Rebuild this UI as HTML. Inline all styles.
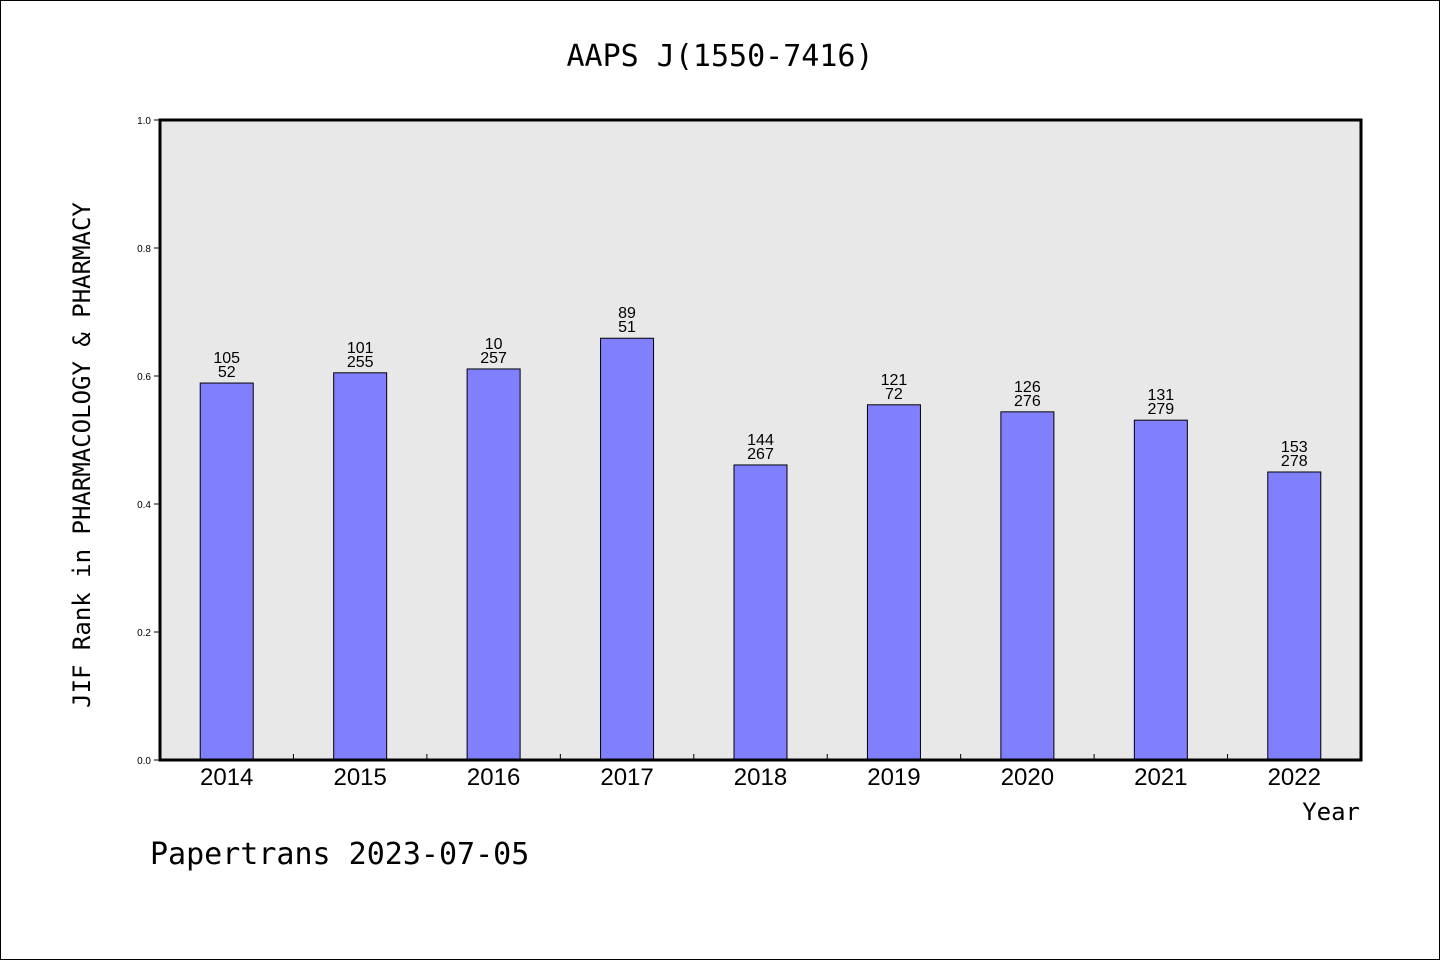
<!DOCTYPE html>
<html><head><meta charset="utf-8"><style>
html,body{margin:0;padding:0;background:#fff}
svg{display:block}
text{font-family:"Liberation Sans","DejaVu Sans",sans-serif;fill:#000}
</style></head><body>
<svg id="chart" width="1440" height="960" viewBox="0 0 1440 960" xmlns="http://www.w3.org/2000/svg">
<rect x="0.5" y="0.5" width="1439" height="959" fill="#fff" stroke="#000" stroke-width="1"/>
<text x="720" y="66" font-size="30" text-anchor="middle" style="font-family:'DejaVu Sans Mono','Liberation Mono',monospace">AAPS J(1550-7416)</text>
<rect x="160" y="120" width="1201" height="640" fill="#e8e8e8"/>
<g id="yticks"></g>
<g id="bars"></g>
<g id="xticks"></g>
<rect x="160" y="120" width="1201" height="640" fill="none" stroke="#000" stroke-width="3"/>
<text transform="translate(90,455) rotate(-90)" font-size="24" text-anchor="middle" style="font-family:'DejaVu Sans Mono','Liberation Mono',monospace">JIF Rank in PHARMACOLOGY &amp; PHARMACY</text>
<text x="1360" y="820" font-size="24" text-anchor="end" style="font-family:'DejaVu Sans Mono','Liberation Mono',monospace">Year</text>
<text x="150" y="864" font-size="30" style="font-family:'DejaVu Sans Mono','Liberation Mono',monospace">Papertrans 2023-07-05</text>
</svg>
<script>
const categories = ["2014","2015","2016","2017","2018","2019","2020","2021","2022"];
const values = [0.589,0.605,0.611,0.659,0.461,0.555,0.544,0.531,0.450];
const rankLabels = ["105","101","10","89","144","121","126","131","153"];
const totalLabels = ["52","255","257","51","267","72","276","279","278"];
const yTickLabels = ["0.0","0.2","0.4","0.6","0.8","1.0"];
const yTickValues = [0,0.2,0.4,0.6,0.8,1.0];

const NS="http://www.w3.org/2000/svg";
const x0=160,x1=1361,y0=760,y1=120;
const band=(x1-x0)/categories.length;
const xC=i=>x0+band*(i+0.5);
const yS=v=>y0-(y0-y1)*v;
function mk(tag,attrs,parent){const e=document.createElementNS(NS,tag);for(const k in attrs)e.setAttribute(k,attrs[k]);parent.appendChild(e);return e;}
const gy=document.getElementById('yticks'),gb=document.getElementById('bars'),gx=document.getElementById('xticks');
yTickValues.forEach((v,i)=>{
  const l=mk('line',{x1:154,x2:160,y1:yS(v),y2:yS(v),stroke:'#000','stroke-width':1},gy);
  
  
  const t=mk('text',{x:151,y:yS(v)+4,'font-size':10,'text-anchor':'end'},gy);
  
  
  t.textContent=yTickLabels[i];
});
const bw=53;
categories.forEach((c,i)=>{
  const cx=xC(i),top=yS(values[i]);
  const r=mk('rect',{x:cx-bw/2,y:top,width:bw,height:y0-top,fill:'#8080ff',stroke:'#000','stroke-width':1},gb);
  
  
  const t1=mk('text',{x:cx,y:top-20,'font-size':16,'text-anchor':'middle'},gb);
  
  
  t1.textContent=rankLabels[i];
  const t2=mk('text',{x:cx,y:top-6,'font-size':16,'text-anchor':'middle'},gb);
  
  
  t2.textContent=totalLabels[i];
  const xt=mk('text',{x:cx,y:785,'font-size':24,'text-anchor':'middle'},gx);
  
  
  xt.textContent=c;
  if(i>0){
    const tk=mk('line',{x1:x0+band*i,x2:x0+band*i,y1:754,y2:760,stroke:'#000','stroke-width':1},gx);
    
    
  }
});
</script>
</body></html>
